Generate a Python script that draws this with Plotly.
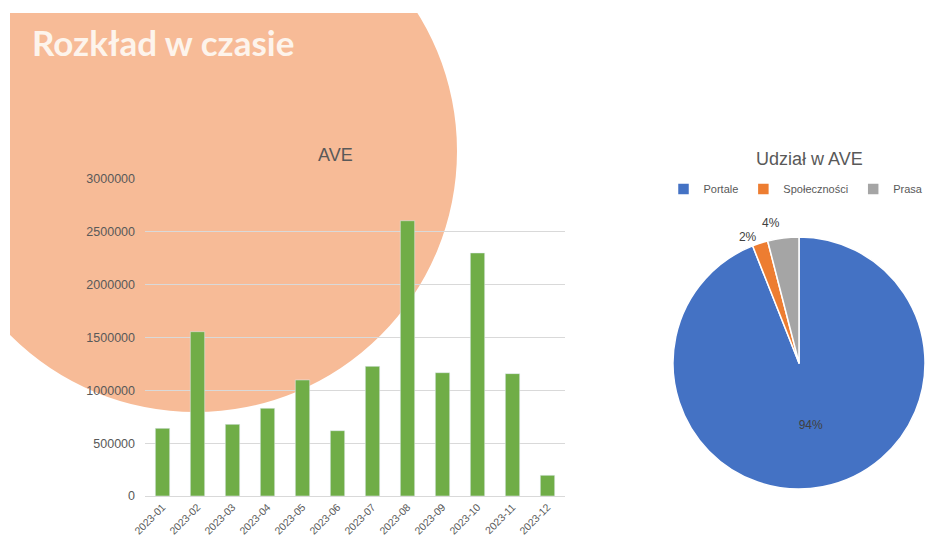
import plotly.graph_objects as go

# ---- data ----
months = ["2023-01", "2023-02", "2023-03", "2023-04", "2023-05", "2023-06",
          "2023-07", "2023-08", "2023-09", "2023-10", "2023-11", "2023-12"]
ave_values = [640000, 1555000, 678000, 830000, 1098000, 618000,
              1227000, 2605000, 1167000, 2300000, 1158000, 196000]
y_ticks = [0, 500000, 1000000, 1500000, 2000000, 2500000, 3000000]

share_labels = ["Portale", "Społeczności", "Prasa"]
share_values = [94, 2, 4]

# page has an 8px body margin; figure sized so page is exactly 933x544
OFF = 8
W, H = 933 - 2 * OFF, 544 - 2 * OFF
TXT = "#595959"
LBL = "#404040"


def X(px):
    return (px - OFF) / W


def Y(py):
    return 1 - (py - OFF) / H


fig = go.Figure()

fig.add_trace(go.Bar(
    x=months, y=ave_values, marker_color="#70ad47", showlegend=False,
))

fig.add_trace(go.Pie(
    labels=share_labels, values=share_values, sort=False,
    direction="clockwise", rotation=0,
    marker=dict(colors=["#4472c4", "#ed7d31", "#a5a5a5"],
                line=dict(color="white", width=1.5)),
    textinfo="percent", textposition=["inside", "outside", "outside"],
    texttemplate="<span style='color:" + LBL + "'>%{percent:.0%}</span>",
    insidetextorientation="horizontal",
    textfont=dict(family="Liberation Sans, Arial", size=12, color=LBL),
    insidetextfont=dict(family="Liberation Sans, Arial", size=12, color=LBL),
    # leader lines take the outside text colour -> white (invisible);
    # the visible label colour comes from the span in the template
    outsidetextfont=dict(family="Liberation Sans, Arial", size=12, color="white"),
    domain=dict(x=[X(673), 1.0], y=[Y(493), Y(233)]),
    showlegend=True,
))

shapes = [
    dict(type="circle", xref="paper", yref="paper", layer="below",
         x0=X(197 - 263), x1=X(197 + 260),
         y0=Y(152 + 260), y1=Y(152 - 262),
         fillcolor="#f7bb97", line=dict(width=0)),
    dict(type="rect", xref="paper", yref="paper", layer="below",
         x0=X(0), x1=X(10), y0=0, y1=Y(0), fillcolor="white", line=dict(width=0)),
    dict(type="rect", xref="paper", yref="paper", layer="below",
         x0=X(0), x1=1, y0=Y(13), y1=Y(0), fillcolor="white", line=dict(width=0)),
]

annotations = [
    dict(text="<b>Rozkład w czasie</b>", xref="paper", yref="paper",
         x=X(30), y=Y(42), xanchor="left", yanchor="middle", showarrow=False,
         font=dict(family="Lato", size=35, color="#fdf4ec")),
    dict(text="AVE", xref="paper", yref="paper",
         x=X(335), y=Y(155), xanchor="center", yanchor="middle", showarrow=False,
         font=dict(family="Liberation Sans, Arial", size=18, color=TXT)),
    dict(text="Udział w AVE", xref="paper", yref="paper",
         x=X(809), y=Y(159), xanchor="center", yanchor="middle", showarrow=False,
         font=dict(family="Liberation Sans, Arial", size=18, color=TXT)),
]

fig.update_layout(
    width=W, height=H,
    margin=dict(l=0, r=0, t=0, b=0, autoexpand=False),
    paper_bgcolor="white", plot_bgcolor="rgba(0,0,0,0)",
    shapes=shapes, annotations=annotations,
    bargap=0.59,
    font=dict(family="Liberation Sans, Arial", size=11, color=TXT),
    xaxis=dict(type="category", domain=[X(145), X(565)], tickangle=-45,
               showgrid=False, automargin=False,
               showline=True, linecolor="#d9d9d9", ticks="",
               tickfont=dict(size=10.5, color=TXT)),
    yaxis=dict(domain=[Y(496), Y(179)], range=[0, 3000000], automargin=False,
               tickvals=y_ticks, tickformat="d", showgrid=True,
               gridcolor="#d9d9d9", zeroline=False, showline=False, ticks="",
               ticklabelstandoff=9,
               tickfont=dict(size=12.5, color=TXT)),
    legend=dict(orientation="h", x=X(796), xanchor="center",
                y=Y(189), yanchor="middle",
                font=dict(size=11, color=TXT), bgcolor="rgba(0,0,0,0)",
                itemwidth=30),
)

fig.write_html("out.html")
